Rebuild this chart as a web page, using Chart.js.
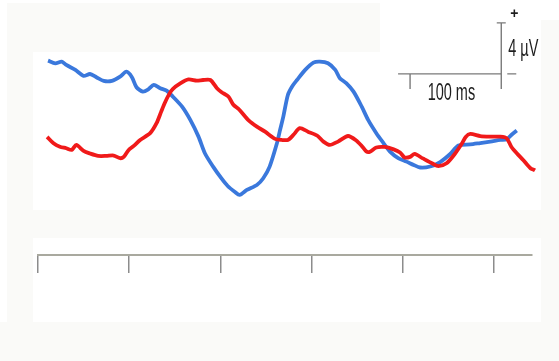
<!DOCTYPE html>
<html>
<head>
<meta charset="utf-8">
<script src="https://cdn.jsdelivr.net/npm/chart.js@4/dist/chart.umd.min.js"></script>
<style>
  html, body { margin: 0; padding: 0; background: #ffffff; }
  canvas { display: block; }
</style>
</head>
<body>
<canvas id="erp" width="559" height="361"></canvas>
<script>
// Grand-average waveforms: time in ms, amplitude in µV (positive up)
const blueTimes = [11,19,26,31,41,50,57,64,72,81,90,97,103,108,115,121,127,134,141,148,158,167,176,183,192,201,208,216,221,229,240,247,254,262,265,269,274,279,284,293,302,309,318,326,331,338,346,355,362,371,379,386,395,404,412,419,430,441,452,461,474,485,496,507,514,519,525];
const blueValues = [5.24,5.03,5.16,4.90,4.51,4.04,4.19,3.94,3.65,3.65,3.98,4.37,3.94,3.15,2.81,2.99,3.33,3.07,2.89,2.41,1.63,0.59,-0.72,-2.02,-3.07,-3.98,-4.59,-5.06,-5.29,-4.90,-4.51,-3.98,-3.07,-1.24,-0.33,0.85,2.55,3.25,3.72,4.51,5.08,5.16,5.03,4.51,3.86,3.47,2.81,1.63,0.59,-0.45,-1.24,-1.90,-2.41,-2.68,-2.94,-3.14,-3.06,-2.71,-2.08,-1.41,-1.33,-1.22,-1.11,-0.98,-0.93,-0.59,-0.24];

const redTimes = [10,17,24,31,37,42,50,57,66,75,83,90,94,99,105,112,123,130,135,139,144,148,156,165,174,181,189,196,201,209,214,221,231,240,249,260,267,274,280,287,296,306,313,320,329,340,349,355,360,364,371,380,390,397,402,408,413,422,432,439,448,457,465,469,474,485,496,507,514,519,525,532,540,545,549,550];
const redValues = [-0.74,-1.24,-1.51,-1.63,-1.76,-1.37,-1.84,-2.04,-2.23,-2.23,-2.20,-2.41,-2.31,-1.80,-1.45,-0.98,-0.45,0.33,1.22,1.92,2.63,3.02,3.45,3.76,3.67,3.72,3.72,3.10,2.78,2.41,1.80,1.37,0.55,0.06,-0.33,-0.90,-0.98,-0.98,-0.59,-0.06,-0.33,-0.63,-1.11,-1.37,-1.11,-0.67,-1.02,-1.45,-1.88,-1.90,-1.57,-1.53,-1.72,-1.96,-2.35,-2.31,-2.08,-2.43,-2.81,-3.03,-2.81,-2.08,-1.24,-0.74,-0.51,-0.68,-0.72,-0.72,-0.85,-1.51,-2.02,-2.55,-3.20,-3.37,-3.59,-3.80];

// Time axis: one tick every 100 ms
const timeTicks = [0, 100, 200, 300, 400, 500];

// Calibration bar: 100 ms by 4 µV, corner placed in data units
const calib = { t: 508, v: 4.2, ms: 100, uv: 4, msLabel: '100 ms', uvLabel: '4 \u00B5V' };

const toPoints = (ts, vs) => ts.map((t, i) => ({ x: t, y: vs[i] }));

// Faint page panels behind the plot
const panels = {
  id: 'panels',
  beforeDraw(chart) {
    const ctx = chart.ctx;
    ctx.save();
    ctx.fillStyle = '#ffffff';
    ctx.fillRect(0, 0, chart.width, chart.height);
    ctx.fillStyle = '#fafaf8';
    ctx.fillRect(7, 3, 373, 49);
    ctx.fillRect(7, 10, 26, 312);
    ctx.fillRect(30, 210, 529, 28);
    ctx.fillRect(0, 322, 559, 39);
    ctx.fillRect(541, 20, 18, 302);
    ctx.restore();
  }
};

// Calibration bar drawn through the chart's own scales
const calibration = {
  id: 'calibration',
  afterDatasetsDraw(chart) {
    const xs = chart.scales.x, ys = chart.scales.y, ctx = chart.ctx;
    const x1 = xs.getPixelForValue(calib.t);
    const x0 = xs.getPixelForValue(calib.t - calib.ms);
    const y0 = ys.getPixelForValue(calib.v);
    const y1 = ys.getPixelForValue(calib.v + calib.uv);
    ctx.save();
    ctx.strokeStyle = '#7a7a7a';
    ctx.lineWidth = 1.4;
    ctx.beginPath();
    // horizontal bar
    ctx.moveTo(x0 - 12, y0); ctx.lineTo(x1, y0);
    // time ticks
    ctx.moveTo(x0, y0); ctx.lineTo(x0, y0 + 15);
    ctx.moveTo(x1, y0); ctx.lineTo(x1, y0 + 15);
    // vertical bar with cap
    ctx.moveTo(x1, y0); ctx.lineTo(x1, y1);
    ctx.moveTo(x1 - 4.5, y1); ctx.lineTo(x1 + 4.5, y1);
    // small dash to the right of the corner
    ctx.moveTo(x1 + 6, y0); ctx.lineTo(x1 + 15, y0);
    ctx.stroke();

    ctx.fillStyle = '#1e1e1e';
    ctx.textBaseline = 'alphabetic';
    ctx.textAlign = 'left';
    const sx = 0.63;
    ctx.font = '23px "Liberation Sans", Arial, sans-serif';
    ctx.save();
    ctx.translate((x0 + x1) / 2 - 28, y0 + 26);
    ctx.scale(sx, 1);
    ctx.fillText(calib.msLabel, 0, 0);
    ctx.restore();
    ctx.save();
    ctx.translate(x1 + 7, (y0 + y1) / 2 + 8);
    ctx.scale(sx, 1);
    ctx.fillText(calib.uvLabel, 0, 0);
    ctx.restore();
    ctx.font = 'bold 14px "Liberation Sans", Arial, sans-serif';
    ctx.textAlign = 'center';
    ctx.textBaseline = 'middle';
    ctx.fillText('+', x1 + 13, y1 - 9);
    ctx.restore();
  }
};

new Chart(document.getElementById('erp'), {
  type: 'line',
  data: {
    datasets: [
      {
        label: 'red',
        data: toPoints(redTimes, redValues),
        borderColor: '#f01a1a',
        borderWidth: 3.8,
        pointRadius: 0,
        tension: 0.25,
        clip: false
      },
      {
        label: 'blue',
        data: toPoints(blueTimes, blueValues),
        borderColor: '#3a78dc',
        borderWidth: 3.8,
        pointRadius: 0,
        tension: 0.25,
        clip: false
      }
    ]
  },
  options: {
    responsive: false,
    animation: false,
    events: [],
    layout: { padding: { left: 38, right: 27, top: 5, bottom: 0 } },
    plugins: { legend: { display: false }, tooltip: { enabled: false } },
    scales: {
      x: {
        type: 'linear',
        min: 0,
        max: 541.7,
        afterBuildTicks(scale) { scale.ticks = timeTicks.map(v => ({ value: v })); },
        afterFit(scale) { scale.height = 106; },
        ticks: { display: false, includeBounds: false },
        grid: { drawOnChartArea: false, drawTicks: true, tickLength: 18, color: '#8c8c8c', lineWidth: 1.5 },
        border: { display: true, color: '#a9a99f', width: 2 }
      },
      y: {
        display: false,
        min: -10,
        max: 9.6
      }
    }
  },
  plugins: [panels, calibration]
});
</script>
</body>
</html>
